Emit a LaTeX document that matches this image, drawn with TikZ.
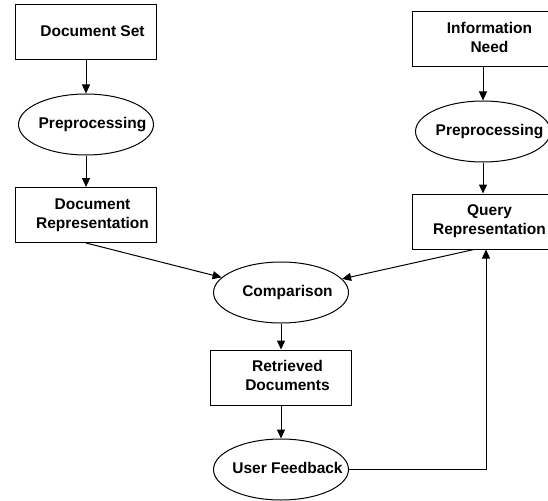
\documentclass[tikz,border=0pt]{standalone}
\usepackage{fontspec}
\setmainfont{Liberation Sans}
\usetikzlibrary{positioning, shapes.geometric, arrows.meta}

\newcommand{\boxtext}[1]{\makebox[0pt]{\hspace*{13pt}\begin{tabular}{@{}c@{}}#1\end{tabular}}}

\tikzset{
  box/.style={draw, rectangle, minimum width=141pt, minimum height=55pt, inner sep=0pt},
  oval/.style={draw, ellipse, minimum width=135pt, minimum height=61pt, inner sep=0pt},
  flow/.style={-{Triangle[length=9pt, width=8pt]}, line width=1pt},
}

\begin{document}
\begin{tikzpicture}
	[x=1pt, y=-1pt, on grid, line width=1pt,
	 font=\bfseries\fontsize{15.5}{19}\selectfont]
   \useasboundingbox (0,0) rectangle (548,500);

   % left column: documents
   \node[box] (docset) at (86,32.5) {\boxtext{Document Set}};
   \node[oval] (prepdoc) [below=92pt of docset] {\boxtext{Preprocessing}};
   \node[box] (docrep) [below=90.5pt of prepdoc] {\boxtext{Document\\ Representation}};

   % right column: query
   \node[box] (infoneed) at (483,39.5) {\boxtext{Information\\ Need}};
   \node[oval] (prepquery) [below=92pt of infoneed] {\boxtext{Preprocessing}};
   \node[box] (queryrep) [below=90pt of prepquery] {\boxtext{Query\\ Representation}};

   % middle column
   \node[oval] (comp) at (281,292.5) {\boxtext{Comparison}};
   \node[box] (retrieved) [below=85pt of comp] {\boxtext{Retrieved\\ Documents}};
   \node[oval] (feedback) [below=92pt of retrieved] {\boxtext{User Feedback}};

   \draw[flow] (docset) -- (prepdoc);
   \draw[flow] (prepdoc) -- (docrep);
   \draw[flow] (infoneed) -- (prepquery);
   \draw[flow] (prepquery) -- (queryrep);
   \draw[flow] (docrep.south) -- (comp);
   \draw[flow] ([xshift=-9pt]queryrep.south) -- (comp);
   \draw[flow] (comp) -- (retrieved);
   \draw[flow] (retrieved) -- (feedback);
   \draw[flow] (feedback.east) -| ([xshift=3pt]queryrep.south);
\end{tikzpicture}
\end{document}
